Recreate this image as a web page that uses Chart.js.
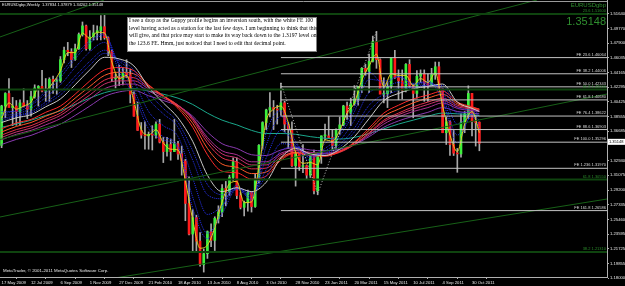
<!DOCTYPE html>
<html>
<head>
<meta charset="utf-8">
<title>EURUSD Weekly</title>
<script src="https://cdn.jsdelivr.net/npm/chart.js@4.4.1/dist/chart.umd.min.js"></script>
<style>
  html, body { margin: 0; padding: 0; background: #000; overflow: hidden; }
  canvas { display: block; }
</style>
</head>
<body>
<canvas id="chart" width="625" height="286"></canvas>
<script>
// week index 0 = 12 Jul 2009, one candle per week
const firstWeek = -8;
const opens = [1.3490,1.3990,1.4150,1.3970,1.3990,1.3920,1.4030,1.3990,
  1.3950,1.4110,1.4220,1.4240,1.4180,1.4200,1.4330,1.4300,1.4310,1.4580,1.4700,1.4680,1.4580,1.4720,1.4900,1.5010,
  1.4720,1.4870,1.4920,1.4950,1.5000,1.4860,1.4690,1.4340,1.4340,1.4330,1.4410,1.4390,1.4140,1.3860,1.3680,1.3620,
  1.3610,1.3630,1.3620,1.3760,1.3530,1.3410,1.3500,1.3410,1.3510,1.3380,1.3290,1.2750,1.2360,1.2570,1.2270,1.1970,
  1.2110,1.2390,1.2280,1.2560,1.2640,1.2940,1.2900,1.3080,1.3280,1.2850,1.2700,1.2760,1.2890,1.2710,1.3050,1.3490,
  1.3780,1.3940,1.3970,1.3950,1.3940,1.4030,1.3760,1.3690,1.3230,1.3390,1.3220,1.3230,1.3110,1.3380,1.2910,1.3380,
  1.3610,1.3610,1.3590,1.3490,1.3690,1.3750,1.3990,1.3900,1.4020,1.4080,1.4240,1.4470,1.4430,1.4560,1.4810,1.4580,
  1.4140,1.4150,1.4240,1.4600,1.4350,1.4310,1.4190,1.4520,1.4250,1.4150,1.4370,1.4400,1.4280,1.4250,1.4390,1.4490,
  1.4210,1.3650,1.3790,1.3500,1.3390,1.3380,1.3780,1.3890,1.4150,1.3790,1.37834];
const highs = [1.4000,1.4160,1.4340,1.4100,1.4060,1.4070,1.4210,1.4060,
  1.4180,1.4260,1.4250,1.4445,1.4340,1.4350,1.4370,1.4340,1.4620,1.4740,1.4800,1.4720,1.4780,1.4920,1.5060,1.5020,
  1.4950,1.5020,1.5010,1.5140,1.5144,1.4870,1.4700,1.4400,1.4510,1.4480,1.4580,1.4460,1.4170,1.4040,1.3780,1.3790,
  1.3660,1.3740,1.3790,1.3820,1.3590,1.3590,1.3570,1.3820,1.3540,1.3480,1.3310,1.3090,1.2670,1.2600,1.2380,1.2170,
  1.2400,1.2490,1.2580,1.2720,1.2990,1.3030,1.3110,1.3330,1.3330,1.2890,1.2780,1.2920,1.2900,1.3130,1.3500,1.3790,
  1.3950,1.4160,1.4060,1.4000,1.4282,1.4050,1.3780,1.3790,1.3400,1.3400,1.3500,1.3240,1.3380,1.3430,1.3400,1.3610,
  1.3760,1.3860,1.3690,1.3700,1.3850,1.4000,1.4040,1.4090,1.4250,1.4240,1.4480,1.4520,1.4650,1.4880,1.4940,1.4590,
  1.4350,1.4300,1.4600,1.4700,1.4450,1.4450,1.4530,1.4580,1.4270,1.4440,1.4450,1.4450,1.4400,1.4470,1.4550,1.4550,
  1.4210,1.3850,1.3800,1.3680,1.3450,1.3890,1.3920,1.4247,1.4150,1.3870,1.37879];
const lows = [1.3460,1.3840,1.3990,1.3740,1.3745,1.3750,1.3980,1.3830,
  1.3860,1.4090,1.3990,1.4170,1.4050,1.4050,1.4150,1.4140,1.4290,1.4540,1.4630,1.4480,1.4570,1.4710,1.4880,1.4700,
  1.4700,1.4830,1.4830,1.4830,1.4840,1.4630,1.4300,1.4220,1.4250,1.4260,1.4350,1.4030,1.3860,1.3680,1.3580,1.3440,
  1.3440,1.3430,1.3580,1.3520,1.3270,1.3350,1.3300,1.3410,1.3310,1.3110,1.2530,1.2350,1.2140,1.2140,1.1950,1.1876,
  1.2050,1.2200,1.2150,1.2500,1.2580,1.2720,1.2850,1.3040,1.2810,1.2680,1.2590,1.2650,1.2640,1.2700,1.3010,1.3440,
  1.3690,1.3850,1.3690,1.3760,1.3870,1.3660,1.3450,1.3220,1.2970,1.3170,1.3140,1.3060,1.3080,1.2870,1.2860,1.3260,
  1.3560,1.3580,1.3430,1.3430,1.3630,1.3740,1.3820,1.3740,1.4000,1.4000,1.4160,1.4380,1.4160,1.4550,1.4470,1.4170,
  1.4030,1.3970,1.4160,1.4340,1.4070,1.4080,1.4170,1.4230,1.3840,1.4090,1.4290,1.4050,1.4050,1.4250,1.4330,1.4200,
  1.3650,1.3500,1.3360,1.3360,1.3146,1.3340,1.3650,1.3830,1.3610,1.3480,1.34202];
const closes = [1.3990,1.4150,1.3970,1.3990,1.3920,1.4030,1.3990,1.3950,
  1.4110,1.4220,1.4240,1.4180,1.4200,1.4330,1.4300,1.4310,1.4580,1.4700,1.4680,1.4580,1.4720,1.4900,1.5010,1.4720,
  1.4870,1.4920,1.4950,1.5000,1.4860,1.4690,1.4340,1.4340,1.4330,1.4410,1.4390,1.4140,1.3860,1.3680,1.3620,1.3610,
  1.3630,1.3620,1.3760,1.3530,1.3410,1.3500,1.3410,1.3510,1.3380,1.3290,1.2750,1.2360,1.2570,1.2270,1.1970,1.2110,
  1.2390,1.2280,1.2560,1.2640,1.2940,1.2900,1.3080,1.3280,1.2850,1.2700,1.2760,1.2890,1.2710,1.3050,1.3490,1.3780,
  1.3940,1.3970,1.3950,1.3940,1.4030,1.3760,1.3690,1.3230,1.3390,1.3220,1.3230,1.3110,1.3380,1.2910,1.3380,1.3610,
  1.3610,1.3590,1.3490,1.3690,1.3750,1.3990,1.3900,1.4020,1.4080,1.4240,1.4470,1.4430,1.4560,1.4810,1.4580,1.4140,
  1.4150,1.4240,1.4600,1.4350,1.4310,1.4190,1.4520,1.4250,1.4150,1.4370,1.4400,1.4280,1.4250,1.4390,1.4490,1.4210,
  1.3650,1.3790,1.3500,1.3390,1.3380,1.3780,1.3890,1.4150,1.3790,1.3780,1.35148];

const dateTickWeeks = [-8, 0, 8, 16, 24, 32, 40, 48, 56, 64, 72, 80, 88, 96, 104, 112, 120];
const dateLabels = ['17 May 2009', '12 Jul 2009', '6 Sep 2009', '1 Nov 2009', '27 Dec 2009', '21 Feb 2010',
  '18 Apr 2010', '13 Jun 2010', '8 Aug 2010', '3 Oct 2010', '28 Nov 2010', '23 Jan 2011', '20 Mar 2011',
  '15 May 2011', '10 Jul 2011', '4 Sep 2011', '30 Oct 2011'];
const priceTicks = [1.51640, 1.49770, 1.47900, 1.46035, 1.44165, 1.42295, 1.40425, 1.38555, 1.36685,
  1.32940, 1.31075, 1.29200, 1.27335, 1.25460, 1.23595, 1.21725, 1.19855, 1.18000];
const priceLabels = ['1.51640', '1.49770', '1.47900', '1.46035', '1.44165', '1.42295', '1.40425', '1.38555', '1.36685',
  '1.32940', '1.31075', '1.29200', '1.27335', '1.25460', '1.23595', '1.21725', '1.19855', '1.18000'];

// moving averages, read every 4 weeks (fast one every 2 weeks)
const maWeeks = [-8,-4,0,4,8,12,16,20,24,28,32,36,40,44,48,52,56,60,64,68,72,76,80,84,88,92,96,100,104,108,112,116,120,122];
const yellowWeeks = [-8,-6,-4,-2,0,2,4,6,8,10,12,14,16,18,20,22,24,26,28,30,32,34,36,38,40,42,44,46,48,50,52,54,56,58,60,
  62,64,66,68,70,72,74,76,78,80,82,84,86,88,90,92,94,96,98,100,102,104,106,108,110,112,114,116,118,120,122];
const yellowMa = [1.383,1.403,1.395,1.399,1.404,1.421,1.420,1.429,1.444,1.467,1.467,1.492,1.485,1.493,1.492,1.455,1.434,
  1.438,1.405,1.369,1.362,1.369,1.352,1.344,1.343,1.304,1.254,1.218,1.222,1.244,1.277,1.300,1.303,1.276,1.277,1.320,
  1.380,1.395,1.399,1.378,1.340,1.326,1.327,1.324,1.356,1.354,1.368,1.390,1.403,1.432,1.450,1.465,1.423,1.440,1.438,
  1.438,1.425,1.434,1.429,1.441,1.399,1.362,1.341,1.376,1.392,1.365];
const blueMa0 = [1.388,1.394,1.402,1.418,1.440,1.463,1.482,1.491,1.442,1.413,1.370,1.356,1.346,1.269,1.230,1.270,1.298,
  1.279,1.365,1.393,1.347,1.330,1.351,1.365,1.398,1.442,1.427,1.437,1.427,1.430,1.406,1.352,1.389,1.370];
const blueMa1 = [1.392,1.392,1.400,1.415,1.435,1.459,1.479,1.489,1.450,1.420,1.377,1.360,1.348,1.283,1.237,1.262,1.293,
  1.281,1.349,1.386,1.354,1.333,1.345,1.361,1.392,1.433,1.431,1.436,1.428,1.430,1.412,1.362,1.385,1.375];
const blueMa2 = [1.387,1.389,1.396,1.410,1.426,1.448,1.468,1.480,1.453,1.430,1.392,1.374,1.360,1.307,1.261,1.272,1.294,
  1.284,1.333,1.368,1.351,1.334,1.342,1.355,1.381,1.416,1.422,1.429,1.426,1.428,1.417,1.376,1.388,1.381];
const blueMa3 = [1.383,1.387,1.392,1.404,1.417,1.437,1.456,1.470,1.456,1.440,1.408,1.389,1.372,1.330,1.286,1.281,1.294,
  1.287,1.318,1.351,1.348,1.336,1.339,1.350,1.371,1.400,1.414,1.422,1.423,1.426,1.422,1.390,1.392,1.386];
const blueMa4 = [1.380,1.386,1.390,1.401,1.413,1.432,1.451,1.466,1.458,1.445,1.416,1.396,1.378,1.342,1.299,1.286,1.295,
  1.289,1.310,1.342,1.347,1.337,1.338,1.347,1.366,1.392,1.410,1.419,1.422,1.425,1.425,1.397,1.394,1.389];
const greyMa = [1.378,1.384,1.388,1.398,1.408,1.426,1.445,1.461,1.459,1.450,1.423,1.403,1.384,1.354,1.311,1.290,1.295,
  1.290,1.302,1.333,1.345,1.338,1.336,1.344,1.360,1.383,1.406,1.415,1.421,1.424,1.427,1.404,1.396,1.392];
const ribbon30 = [1.370,1.3775,1.382,1.391,1.399,1.414,1.431,1.445,1.448,1.444,1.426,1.412,1.396,1.372,1.337,1.316,1.314,
  1.306,1.310,1.330,1.339,1.336,1.335,1.341,1.353,1.371,1.390,1.400,1.408,1.413,1.418,1.404,1.398,1.395];
const ribbon35 = [1.366,1.373,1.378,1.386,1.394,1.409,1.424,1.438,1.442,1.440,1.425,1.412,1.398,1.377,1.345,1.325,1.321,
  1.313,1.315,1.332,1.340,1.337,1.336,1.341,1.352,1.368,1.386,1.395,1.403,1.409,1.414,1.402,1.397,1.395];
const ribbon40 = [1.362,1.369,1.374,1.382,1.390,1.404,1.418,1.432,1.436,1.435,1.423,1.412,1.400,1.381,1.352,1.333,1.328,
  1.319,1.320,1.334,1.340,1.337,1.336,1.340,1.350,1.365,1.381,1.390,1.398,1.404,1.409,1.400,1.396,1.394];
const ribbon45 = [1.359,1.366,1.371,1.379,1.387,1.400,1.413,1.427,1.431,1.431,1.421,1.411,1.400,1.383,1.356,1.338,1.333,
  1.324,1.324,1.337,1.342,1.339,1.338,1.341,1.350,1.364,1.379,1.388,1.395,1.401,1.406,1.398,1.395,1.393];
const ribbon50 = [1.356,1.363,1.368,1.375,1.383,1.395,1.408,1.421,1.426,1.427,1.418,1.409,1.400,1.384,1.359,1.342,1.337,
  1.328,1.328,1.339,1.343,1.340,1.339,1.342,1.350,1.362,1.376,1.385,1.392,1.397,1.403,1.396,1.393,1.392];
const ribbon60 = [1.350,1.3565,1.3616,1.369,1.376,1.387,1.399,1.411,1.417,1.419,1.412,1.406,1.399,1.386,1.366,1.351,1.345,
  1.337,1.336,1.343,1.346,1.343,1.342,1.344,1.350,1.360,1.372,1.380,1.386,1.391,1.397,1.392,1.390,1.389];
const tealMa = [1.372,1.376,1.381,1.387,1.393,1.401,1.409,1.416,1.420,1.421,1.418,1.414,1.409,1.401,1.390,1.381,1.375,
  1.368,1.364,1.364,1.363,1.360,1.358,1.357,1.359,1.364,1.370,1.376,1.381,1.386,1.390,1.389,1.388,1.387];

// Fibonacci expansion (white) drawn from the Nov 2010 high
const feNames = ['FE 23.6', 'FE 38.2', 'FE 50.0', 'FE 61.8', 'FE 76.4', 'FE 88.6', 'FE 100.0', 'FE 1.236', 'FE 161.8'];
const fePrices = [1.46064, 1.44006, 1.42343, 1.40680, 1.38622, 1.36903, 1.35296, 1.31970, 1.26586];
const feStartWeek = 68;
const zigzagWeeks = [68, 78, 94];
const zigzagPrices = [1.4282, 1.2873, 1.4939];

// green horizontal levels and trend lines
const greenNames = ['23.6', '61.8', '61.8', '38.2'];
const greenPrices = [1.5160, 1.4200, 1.3055, 1.2131];
const trendStartWeeks = [-8.44, -8.44, -8.44, 22.86];
const trendStartPrices = [1.4869, 1.3564, 1.2577, 1.1801];
const trendEndWeeks = [19.86, 137.7, 156.73, 156.73];
const trendEndPrices = [1.5340, 1.5340, 1.4143, 1.2806];

const noteLines = [
  'I see a drop as the Guppy profile begins an inversion south, with the white FE 100',
  'level having acted as a station for the last few days. I am beginning to think that this',
  'will give, and that price may start to make its way back down to the 1.3197 level on',
  'the 123.6 FE. Hmm, just noticed that I need to edit that decimal point.'
];
const headerText = 'EURUSDgbp,Weekly  1.37834 1.37879 1.34202 1.35148';
const symbolText = 'EURUSDgbp';
const lastPrice = '1.35148';
const copyrightText = 'MetaTrader, \u00a9 2001-2011 MetaQuotes Software Corp.';

const xMin = -8.44, xMax = 156.73;
const yMin = 1.18133, yMax = 1.53397;

Chart.defaults.font.family = '"Liberation Sans", Arial, sans-serif';

const candleWeeks = opens.map((o, i) => firstWeek + i);
const pts = (xs, ys) => xs.map((x, i) => ({ x: x, y: ys[i] }));

function lineSet(data, color, width, dash, order, smooth) {
  return {
    type: 'line', data: data, borderColor: color, borderWidth: width, borderDash: dash || [],
    pointRadius: 0, fill: false, order: order,
    cubicInterpolationMode: smooth ? 'monotone' : 'default', tension: 0
  };
}

const datasets = [];
// wicks
datasets.push({
  type: 'bar', order: 20, grouped: false, barThickness: 1,
  data: candleWeeks.map((w, i) => ({ x: w, y: [lows[i], highs[i]] })),
  backgroundColor: '#a8a8a8'
});
// bodies
datasets.push({
  type: 'bar', order: 19, grouped: false, barThickness: 2, minBarLength: 1,
  data: candleWeeks.map((w, i) => ({ x: w, y: [opens[i], closes[i]] })),
  backgroundColor: candleWeeks.map((w, i) => closes[i] >= opens[i] ? '#3cf03c' : '#ff1a1a')
});
// guppy ribbon
const ribbonColors = ['#ff2a2a', '#ff5a2a', '#e0304a', '#c8306a', '#a83090', '#8a3ab0'];
[ribbon30, ribbon35, ribbon40, ribbon45, ribbon50, ribbon60].forEach((r, k) => {
  datasets.push(lineSet(pts(maWeeks, r), ribbonColors[k], 1, null, 10, true));
});
datasets.push(lineSet(pts(maWeeks, tealMa), '#1aa88c', 1, null, 10, true));
datasets.push(lineSet(pts(maWeeks, greyMa), '#c8c8c8', 1, null, 9, true));
[blueMa4, blueMa3, blueMa2, blueMa1, blueMa0].forEach(b => {
  datasets.push(lineSet(pts(maWeeks, b), '#2632f0', 1, [1, 1], 9, true));
});
datasets.push(lineSet(pts(yellowWeeks, yellowMa), '#e0d020', 1, null, 8, true));

// objects
greenPrices.forEach(p => {
  datasets.push(lineSet([{ x: xMin, y: p }, { x: xMax, y: p }], '#0f440f', 2, null, 3));
});
trendStartWeeks.forEach((w, k) => {
  datasets.push(lineSet([{ x: w, y: trendStartPrices[k] }, { x: trendEndWeeks[k], y: trendEndPrices[k] }], '#176017', 1, null, 3));
});
fePrices.forEach(p => {
  datasets.push(lineSet([{ x: feStartWeek, y: p }, { x: xMax, y: p }], '#c4c4c4', 1, null, 2));
});
datasets.push(lineSet(pts(zigzagWeeks, zigzagPrices), '#c4c4c4', 1, [1, 2], 2));

const overlay = {
  id: 'overlay',
  beforeDraw(chart) {
    const ctx = chart.ctx;
    ctx.save();
    ctx.fillStyle = '#000';
    ctx.fillRect(0, 0, chart.width, chart.height);
    ctx.restore();
  },
  afterDraw(chart) {
    const ctx = chart.ctx;
    const a = chart.chartArea;
    const y = chart.scales.y;
    ctx.save();
    // top frame line
    ctx.strokeStyle = '#9a9a9a';
    ctx.lineWidth = 1;
    ctx.beginPath();
    ctx.moveTo(a.left, 1.5);
    ctx.lineTo(a.right, 1.5);
    ctx.stroke();

    // FE labels
    ctx.font = '4px "Liberation Sans"';
    ctx.textAlign = 'right';
    ctx.textBaseline = 'bottom';
    ctx.fillStyle = '#d8d8d8';
    fePrices.forEach((p, i) => {
      ctx.fillText(feNames[i] + ' ' + p.toFixed(5), a.right - 1, y.getPixelForValue(p) - 1);
    });
    // green level labels
    ctx.fillStyle = '#2a8a2a';
    greenPrices.forEach((p, i) => {
      if (greenNames[i]) ctx.fillText(greenNames[i] + ' ' + p.toFixed(5), a.right - 1, y.getPixelForValue(p) - 1);
    });

    // header + copyright
    ctx.textAlign = 'left';
    ctx.textBaseline = 'middle';
    ctx.fillStyle = '#e8e8e8';
    ctx.fillText(headerText, 2, 5);
    ctx.font = '4.4px "Liberation Sans"';
    ctx.fillText(copyrightText, 3, 271);

    // symbol and big price, top right
    ctx.textAlign = 'right';
    ctx.fillStyle = '#2f8f2f';
    ctx.font = '6px "Liberation Sans"';
    ctx.fillText(symbolText, a.right - 1, 5);
    ctx.font = '11px "Liberation Sans"';
    ctx.fillText(lastPrice, a.right - 1, 22);

    // note box
    ctx.fillStyle = '#ffffff';
    ctx.fillRect(127, 17, 190, 35);
    ctx.strokeStyle = '#808080';
    ctx.strokeRect(127.5, 17.5, 189, 34);
    ctx.fillStyle = '#000';
    ctx.textAlign = 'left';
    ctx.textBaseline = 'middle';
    ctx.font = '5.6px "Liberation Serif"';
    noteLines.forEach((t, i) => ctx.fillText(t, 129, 21 + i * 7.5));

    // last price box on the axis
    const py = y.getPixelForValue(parseFloat(lastPrice)) - 1.5;
    ctx.fillStyle = '#ffffff';
    ctx.fillRect(a.right + 1, py - 3, 18, 6);
    ctx.fillStyle = '#000';
    ctx.textAlign = 'left';
    ctx.font = '4px "Liberation Sans"';
    ctx.fillText(lastPrice, a.right + 2, py);
    ctx.restore();
  }
};

new Chart(document.getElementById('chart'), {
  type: 'bar',
  data: { datasets: datasets },
  options: {
    responsive: false,
    animation: false,
    events: [],
    layout: { padding: 0 },
    plugins: { legend: { display: false }, tooltip: { enabled: false } },
    scales: {
      x: {
        type: 'linear', min: xMin, max: xMax, offset: false,
        afterBuildTicks: axis => { axis.ticks = dateTickWeeks.map(v => ({ value: v })); },
        afterFit: axis => { axis.height = 9; axis.paddingLeft = 0; axis.paddingRight = 0; },
        ticks: {
          callback: (v, i) => dateLabels[i], align: 'start', maxRotation: 0, autoSkip: false,
          font: { size: 4.2 }, color: '#e8e8e8', padding: 1
        },
        grid: { drawOnChartArea: false, color: '#b0b0b0', tickLength: 2 },
        border: { color: '#b0b0b0' }
      },
      y: {
        type: 'linear', position: 'right', min: yMin, max: yMax,
        afterBuildTicks: axis => { axis.ticks = priceTicks.map(v => ({ value: v })); },
        afterFit: axis => { axis.width = 18; axis.paddingTop = 0; axis.paddingBottom = 0; },
        ticks: {
          callback: (v, i) => priceLabels[i], autoSkip: false,
          font: { size: 4.2 }, color: '#e8e8e8', padding: 1
        },
        grid: { drawOnChartArea: false, color: '#b0b0b0', tickLength: 2 },
        border: { color: '#b0b0b0' }
      }
    }
  },
  plugins: [overlay]
});
</script>
</body>
</html>
